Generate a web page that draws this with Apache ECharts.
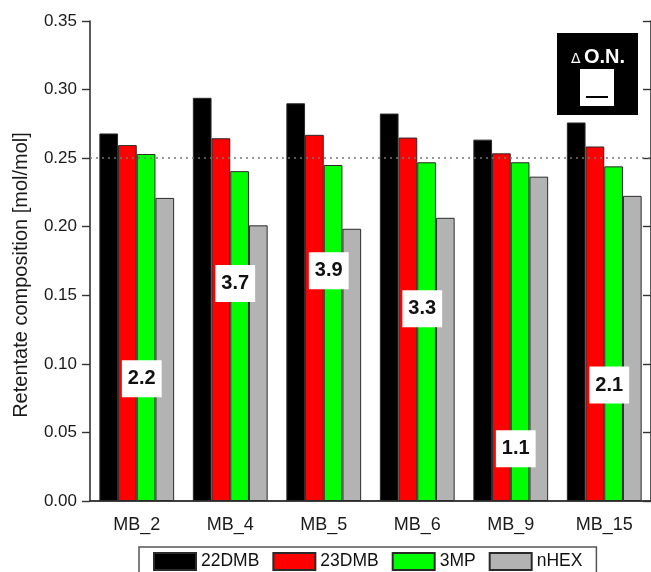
<!DOCTYPE html>
<html>
<head>
<meta charset="utf-8">
<script src="https://cdn.jsdelivr.net/npm/echarts@6/dist/echarts.min.js"></script>
<style>
  html, body { margin: 0; padding: 0; background: #ffffff; }
  #chart { width: 651px; height: 572px; }
</style>
</head>
<body>
<div id="chart"></div>
<script>
// Retentate composition per membrane
const categories = ['MB_2', 'MB_4', 'MB_5', 'MB_6', 'MB_9', 'MB_15'];
const seriesNames = ['22DMB', '23DMB', '3MP', 'nHEX'];
const dmb22 = [0.268, 0.294, 0.290, 0.2825, 0.2635, 0.276];
const dmb23 = [0.2595, 0.2645, 0.267, 0.265, 0.2535, 0.2585];
const mp3   = [0.253, 0.2405, 0.245, 0.247, 0.247, 0.244];
const nhex  = [0.221, 0.201, 0.1985, 0.2065, 0.2365, 0.2225];
// Octane-number gain for each membrane
const deltaON = [2.2, 3.7, 3.9, 3.3, 1.1, 2.1];
// Equimolar reference level
const referenceLevel = 0.25;
const yTicks = [0, 0.05, 0.10, 0.15, 0.20, 0.25, 0.30, 0.35];

const colors = ['#000000', '#ff0000', '#00ff00', '#b3b3b3'];
const values = [dmb22, dmb23, mp3, nhex];
const FONT = 'Liberation Sans, Arial, sans-serif';

const barSeries = seriesNames.map((name, i) => ({
  name: name,
  type: 'bar',
  xAxisIndex: 0,
  yAxisIndex: 0,
  data: values[i],
  barGap: '0%',
  barCategoryGap: '20%',
  z: 3,
  itemStyle: { color: colors[i], borderColor: '#2a2a2a', borderWidth: 1 },
  emphasis: { disabled: true }
}));

const chart = echarts.init(document.getElementById('chart'), null, { renderer: 'canvas' });

chart.setOption({
  animation: false,
  backgroundColor: '#ffffff',
  textStyle: { fontFamily: FONT },
  grid: { left: 90, right: -3, top: 21, bottom: 71 },
  legend: {
    data: seriesNames,
    left: 139,
    top: 547,
    padding: [5, 14, 8, 14],
    itemWidth: 42,
    itemHeight: 17,
    itemGap: 13,
    icon: 'rect',
    borderColor: '#555555',
    borderWidth: 1.5,
    textStyle: { fontSize: 17.5, color: '#111111', fontFamily: FONT },
    selectedMode: false
  },
  xAxis: [
    {
      type: 'category',
      data: categories,
      position: 'bottom',
      axisLine: { lineStyle: { color: '#333333', width: 1.6 } },
      axisTick: { alignWithLabel: true, length: 9, lineStyle: { color: '#333333', width: 1.4 } },
      axisLabel: { fontSize: 18, color: '#1a1a1a', margin: 15, fontFamily: FONT },
      splitLine: { show: false }
    },
    {
      type: 'category',
      data: categories,
      position: 'top',
      axisLine: { lineStyle: { color: '#333333', width: 1.6 } },
      axisTick: { show: false },
      axisLabel: { show: false },
      splitLine: { show: false }
    }
  ],
  yAxis: [
    {
      type: 'value',
      min: yTicks[0],
      max: yTicks[yTicks.length - 1],
      interval: 0.05,
      name: 'Retentate composition [mol/mol]',
      nameLocation: 'middle',
      nameGap: 59,
      nameTextStyle: { fontSize: 20, color: '#1a1a1a', fontFamily: FONT, padding: [0, 28, 0, 0] },
      axisLine: { show: true, lineStyle: { color: '#333333', width: 1.6 } },
      axisTick: { show: true, length: 8, lineStyle: { color: '#333333', width: 1.4 } },
      axisLabel: {
        fontSize: 17, color: '#1a1a1a', margin: 13, fontFamily: FONT,
        formatter: v => v.toFixed(2)
      },
      splitLine: { show: false }
    },
    {
      type: 'value',
      position: 'right',
      min: yTicks[0],
      max: yTicks[yTicks.length - 1],
      interval: 0.05,
      axisLine: { show: true, lineStyle: { color: '#333333', width: 1.6 } },
      axisTick: { show: true, inside: true, length: 8, lineStyle: { color: '#333333', width: 1.4 } },
      axisLabel: { show: false },
      splitLine: { show: false }
    },
    {
      // hidden scale that places the octane-number boxes
      type: 'value',
      show: false,
      min: 0.276,
      max: 7.83
    }
  ],
  series: [
    {
      name: 'reference',
      type: 'line',
      data: [],
      z: 1,
      markLine: {
        silent: true,
        symbol: 'none',
        label: { show: false },
        lineStyle: { type: [2, 4], color: '#777777', width: 1.6 },
        data: [{ yAxis: referenceLevel }]
      }
    },
    ...barSeries,
    {
      name: 'ΔO.N.',
      type: 'scatter',
      xAxisIndex: 0,
      yAxisIndex: 2,
      z: 10,
      symbolSize: 1,
      itemStyle: { color: 'rgba(0,0,0,0)', opacity: 1 },
      data: deltaON.map((v, i) => [categories[i], v]),
      label: {
        show: true,
        position: 'inside',
        offset: [5, 0],
        formatter: p => p.value[1].toFixed(1),
        backgroundColor: '#ffffff',
        padding: [9, 6, 8, 6],
        lineHeight: 20,
        fontSize: 20,
        fontWeight: 'bold',
        color: '#111111',
        opacity: 1,
        fontFamily: FONT
      },
      emphasis: { disabled: true }
    }
  ],
  graphic: [
    {
      type: 'group',
      left: 557,
      top: 33,
      children: [
        { type: 'rect', shape: { x: 0, y: 0, width: 81, height: 82 }, style: { fill: '#000000' } },
        {
          type: 'text',
          style: {
            x: 41, y: 24,
            text: '{d|Δ} {o|O.N.}',
            align: 'center',
            verticalAlign: 'middle',
            fill: '#ffffff',
            rich: {
              d: { fontSize: 14, fill: '#ffffff', fontFamily: 'DejaVu Sans, sans-serif', padding: [5, 0, 0, 0] },
              o: { fontSize: 20, fontWeight: 'bold', fill: '#ffffff', fontFamily: FONT }
            }
          }
        },
        { type: 'rect', shape: { x: 23, y: 36, width: 34, height: 37 }, style: { fill: '#ffffff' } },
        { type: 'line', shape: { x1: 29, y1: 64, x2: 51, y2: 64 }, style: { stroke: '#000000', lineWidth: 2 } }
      ]
    }
  ]
});
</script>
</body>
</html>
